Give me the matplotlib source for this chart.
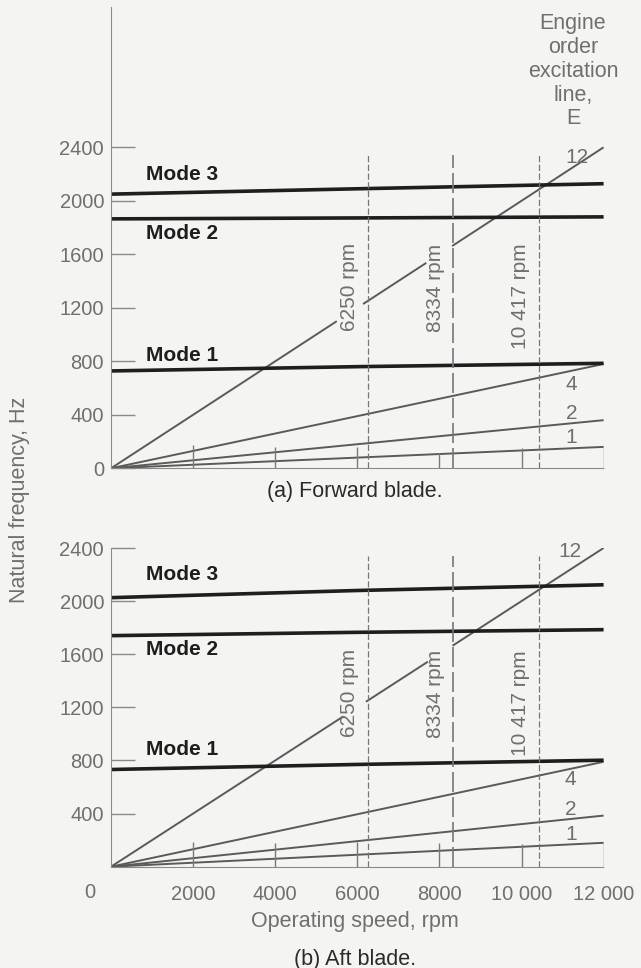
import numpy as np
import matplotlib
matplotlib.use("Agg")
import matplotlib.pyplot as plt

plt.rcParams['font.family'] = ['Liberation Sans', 'DejaVu Sans']

# data
speed = [0, 6000, 12000]                 # rpm, for the mode lines
speed_e = [0, 12000]                     # rpm, for engine order lines

# (a) forward blade
fwd_mode1 = [728, 760, 785]
fwd_mode2 = [1865, 1872, 1880]
fwd_mode3 = [2050, 2090, 2128]
fwd_e1 = [0, 160]
fwd_e2 = [0, 360]
fwd_e4 = [0, 780]
fwd_e12_speed = [0, 5500, np.nan, 6140, 7680, np.nan, 8310, 12000]
fwd_e12 = [0, 1100, np.nan, 1228, 1536, np.nan, 1662, 2400]
fwd_stub_h = [174, 161, 161, 114, 152, 161]

# (b) aft blade
aft_mode1 = [732, 770, 802]
aft_mode2 = [1740, 1765, 1785]
aft_mode3 = [2026, 2080, 2123]
aft_e1 = [0, 180]
aft_e2 = [0, 385]
aft_e4 = [0, 790]
aft_e12_speed = [0, 5660, np.nan, 6210, 7720, np.nan, 8320, 12000]
aft_e12 = [0, 1132, np.nan, 1242, 1544, np.nan, 1664, 2400]
aft_stub_h = [188, 176, 188, 176, 171, 180]

stub_x = [2000, 4000, 6000, 8000, 10000, 12000]
crit_rpm = [6250, 8334, 10417]
crit_labels = ['6250 rpm', '8334 rpm', '10 417 rpm']
fwd_crit_label_y = [1355, 1348, 1288]
aft_crit_label_y = [1308, 1300, 1235]

yticks = [0, 400, 800, 1200, 1600, 2000, 2400]
xticks = [2000, 4000, 6000, 8000, 10000, 12000]
xtick_labels = ['2000', '4000', '6000', '8000', '10 000', '12 000']

e_names = ['12', '4', '2', '1']
fwd_e_lab = [(11350, 2327), (11220, 623), (11220, 413), (11200, 232)]
aft_e_lab = [(11190, 2372), (11200, 653), (11200, 427), (11200, 239)]
fwd_mode_lab = [2200, 1752, 842]
aft_mode_lab = [2203, 1632, 884]

BG = '#f4f4f2'
GREY = '#6f6f6f'
LINE = '#5a5a5a'
DARK = '#1e1e1e'

W, H = 641, 968
fig = plt.figure(figsize=(W / 100, H / 100), dpi=100, facecolor=BG)

ax1 = fig.add_axes([111 / W, 1 - 468.3 / H, 492.6 / W, 461.4 / H])
ax2 = fig.add_axes([111 / W, 1 - 866.7 / H, 492.6 / W, 318.7 / H])


def draw_panel(ax, m1, m2, m3, e1, e2, e4, e12s, e12, stubs, crit_y, e_lab, mode_y, ytop, show_zero):
    ax.set_facecolor(BG)
    ax.set_xlim(0, 12000)
    ax.set_ylim(0, ytop)

    for sp in ['top', 'right']:
        ax.spines[sp].set_visible(False)
    ax.spines['left'].set_color('#8a8a8a')
    ax.spines['bottom'].set_color('#8a8a8a')
    ax.spines['bottom'].set_linestyle((0, (2, 1)))

    # engine order excitation lines
    for vals in [e1, e2, e4]:
        ax.plot(speed_e, vals, color=LINE, lw=1.4, solid_capstyle='butt')
    ax.plot(e12s, e12, color=LINE, lw=1.4, solid_capstyle='butt')

    # natural frequency modes
    for vals in [m1, m2, m3]:
        ax.plot(speed, vals, color=DARK, lw=2.6, solid_capstyle='butt')

    # crossing speeds
    styles = [(0, (5, 2)), (0, (12, 3)), (0, (5, 2))]
    widths = [0.9, 1.2, 0.9]
    for x, ls, lw in zip(crit_rpm, styles, widths):
        ax.plot([x, x], [0, 2340], color='#777777', lw=lw, ls=ls)
    for x, lab, y in zip(crit_rpm, crit_labels, crit_y):
        ax.text(x - 430, y, lab, rotation=90, ha='center', va='center',
                fontsize=15, color=GREY)

    # small vertical stubs along the speed axis
    ax.vlines(stub_x, 0, stubs, color='#7a7a7a', lw=1.0)

    for name, (x, y) in zip(e_names, e_lab):
        ax.text(x, y, name, ha='center', va='center', fontsize=15, color=GREY)
    for name, y in zip(['Mode 3', 'Mode 2', 'Mode 1'], mode_y):
        ax.text(860, y, name, ha='left', va='center', fontsize=15,
                color=DARK, fontweight='bold')

    ax.set_yticks(yticks if show_zero else yticks[1:])
    ax.tick_params(axis='y', direction='in', length=17, width=1.0,
                   color='#8a8a8a', pad=5, labelsize=14.5, labelcolor=GREY)


draw_panel(ax1, fwd_mode1, fwd_mode2, fwd_mode3, fwd_e1, fwd_e2, fwd_e4,
           fwd_e12_speed, fwd_e12, fwd_stub_h, fwd_crit_label_y, fwd_e_lab,
           fwd_mode_lab, 3450, True)
draw_panel(ax2, aft_mode1, aft_mode2, aft_mode3, aft_e1, aft_e2, aft_e4,
           aft_e12_speed, aft_e12, aft_stub_h, aft_crit_label_y, aft_e_lab,
           aft_mode_lab, 2400, False)

ax1.set_xticks([])
ax2.set_xticks(xticks)
ax2.set_xticklabels(xtick_labels)
ax2.tick_params(axis='x', length=0, pad=13, labelsize=14.5, labelcolor=GREY)

# figure level text
fig.text(90 / W, 1 - 893 / H, '0', ha='center', va='center', fontsize=14.5, color=GREY)
fig.text(355 / W, 1 - 921 / H, 'Operating speed, rpm', ha='center', va='center',
         fontsize=15.5, color=GREY)
fig.text(355 / W, 1 - 492 / H, '(a) Forward blade.', ha='center', va='center',
         fontsize=15.5, color='#2a2a2a')
fig.text(355 / W, 1 - 959 / H, '(b) Aft blade.', ha='center', va='center',
         fontsize=15.5, color='#2a2a2a')
fig.text(20 / W, 1 - 500 / H, 'Natural frequency, Hz', ha='center', va='center',
         rotation=90, fontsize=15.5, color=GREY)

eng_lines = ['Engine', 'order', 'excitation', 'line,', 'E']
eng_y = [23, 47.5, 71.5, 95, 118]
for txt, y in zip(eng_lines, eng_y):
    fig.text(573 / W, 1 - y / H, txt, ha='center', va='center', fontsize=15.5, color=GREY)

fig.savefig('out.png', dpi=100, facecolor=BG)
